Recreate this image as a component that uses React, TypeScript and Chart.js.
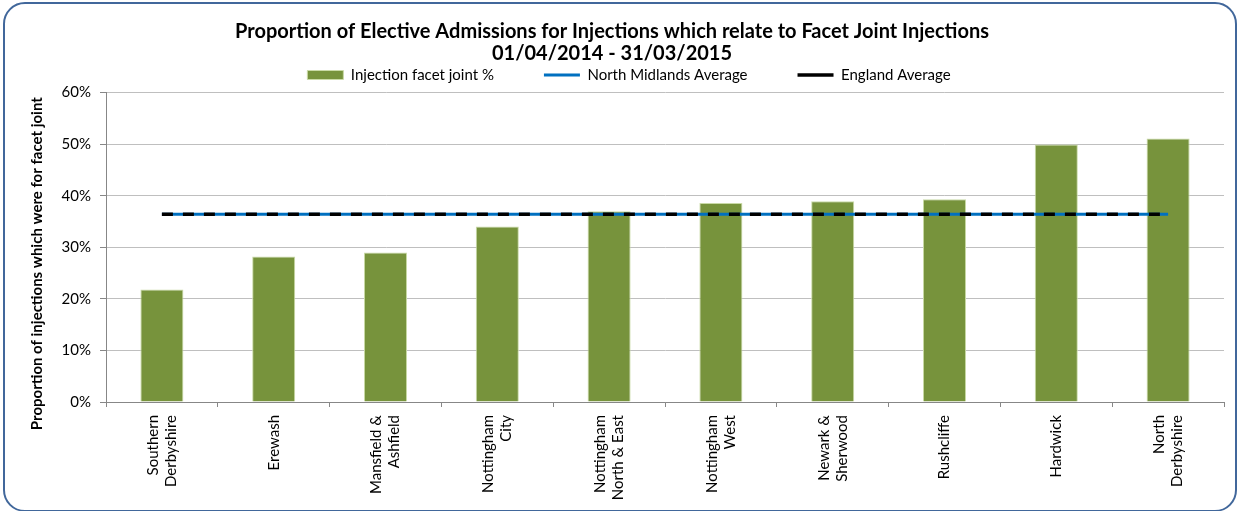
import React, { useEffect, useRef } from "react";
import { Chart, registerables } from "chart.js";

Chart.register(...registerables);

const categories: (string | string[])[] = [
  ["Southern", "Derbyshire"],
  "Erewash",
  ["Mansfield &", "Ashfield"],
  ["Nottingham", "City"],
  ["Nottingham", "North & East"],
  ["Nottingham", "West"],
  ["Newark &", "Sherwood"],
  "Rushcliffe",
  "Hardwick",
  ["North", "Derbyshire"],
];

const facetJointPct = [21.8, 28.2, 29.0, 34.0, 37.0, 38.6, 38.9, 39.3, 49.9, 51.1];
const northMidlandsAvg = [36.4, 36.4, 36.4, 36.4, 36.4, 36.4, 36.4, 36.4, 36.4, 36.4];
const englandAvg = [36.4, 36.4, 36.4, 36.4, 36.4, 36.4, 36.4, 36.4, 36.4, 36.4];

const titleLines = [
  "Proportion of Elective Admissions for Injections which relate to Facet Joint Injections",
  "01/04/2014 - 31/03/2015",
];
const yAxisTitle = "Proportion of injections which were for facet joint";
const seriesNames = ["Injection facet joint %", "North Midlands Average", "England Average"];

const FONT = "Lato, 'Open Sans', sans-serif";

// centre multi-line rotated labels on their category (layout only)
const centredLabel = (lab: string | string[]) =>
  Array.isArray(lab) ? [lab[0], "", lab[1]] : ["", lab];

export default function App() {
  const canvasRef = useRef<HTMLCanvasElement | null>(null);

  useEffect(() => {
    document.body.style.margin = "0";
    const canvas = canvasRef.current;
    if (!canvas) return;
    const legendShift = {
      id: "legendShift",
      afterLayout(chart: any) {
        if (chart.legend) {
          chart.legend.left += 17;
          chart.legend.right += 17;
        }
      },
    };
    const chart = new Chart(canvas, {
      type: "bar",
      data: {
        labels: categories,
        datasets: [
          {
            type: "bar",
            label: seriesNames[0],
            data: facetJointPct,
            backgroundColor: "#77933C",
            borderColor: "#C9DAA6",
            borderWidth: 1,
            categoryPercentage: 1,
            barPercentage: 0.385,
            order: 3,
            pointStyle: "rect",
          } as any,
          {
            type: "line",
            label: seriesNames[1],
            data: northMidlandsAvg,
            borderColor: "#0070C0",
            backgroundColor: "#0070C0",
            borderWidth: 3,
            pointRadius: 0,
            order: 2,
            pointStyle: "line",
          } as any,
          {
            type: "line",
            label: seriesNames[2],
            data: englandAvg,
            borderColor: "#000000",
            backgroundColor: "#000000",
            borderWidth: 3.5,
            borderDash: [11, 10],
            pointRadius: 0,
            order: 1,
            pointStyle: "line",
          } as any,
        ],
      },
      plugins: [legendShift],
      options: {
        animation: false,
        responsive: false,
        layout: { padding: { left: 0, right: 15, top: 0, bottom: 0 } },
        plugins: {
          title: {
            display: true,
            text: titleLines,
            color: "#000",
            font: { family: FONT, size: 20, weight: "bold", lineHeight: 22.5 / 20 },
            padding: { top: 20, bottom: -47.5 },
          },
          legend: {
            display: true,
            position: "top",
            labels: {
              usePointStyle: true,
              pointStyleWidth: 36,
              boxHeight: 9,
              padding: 50,
              color: "#000",
              font: { family: FONT, size: 15 },
              sort: (a: any, b: any) => a.datasetIndex - b.datasetIndex,
            },
          },
          tooltip: { enabled: false },
        },
        scales: {
          x: {
            offset: true,
            grid: {
              display: true,
              drawOnChartArea: false,
              drawTicks: true,
              tickLength: 5,
              color: "#878787",
              offset: true,
            },
            border: { display: true, color: "#878787", width: 1 },
            ticks: {
              minRotation: 90,
              maxRotation: 90,
              autoSkip: false,
              padding: 8,
              labelOffset: -9,
              color: "#000",
              font: { family: FONT, size: 15, lineHeight: 0.6 },
              callback: (_v: any, i: number) => centredLabel(categories[i]),
            },
            afterFit: (scale: any) => {
              scale.height = 109;
            },
          },
          y: {
            min: 0,
            max: 60,
            ticks: {
              stepSize: 10,
              padding: 9,
              color: "#000",
              font: { family: FONT, size: 15 },
              callback: (v: any) => v + "%",
            },
            grid: {
              color: (ctx: any) => (ctx.tick && ctx.tick.value === 0 ? "#878787" : "#BFBFBF"),
              tickColor: "#878787",
              tickLength: 6,
            },
            border: { display: true, color: "#878787", width: 1 },
            title: {
              display: true,
              text: yAxisTitle + "\u00A0".repeat(9),
              color: "#000",
              font: { family: FONT, size: 15, weight: "bold", lineHeight: 1.2 },
              padding: { top: 28, bottom: 0 },
            },
            afterFit: (scale: any) => {
              scale.width = 106;
            },
          },
        },
      } as any,
    });
    return () => chart.destroy();
  }, []);

  return (
    <div style={{ position: "relative", width: 1239, height: 511, overflow: "hidden", background: "#fff" }}>
      <canvas ref={canvasRef} width={1239} height={511} style={{ position: "absolute", left: 0, top: 0 }} />
      <div
        style={{
          position: "absolute",
          left: 3,
          top: 2,
          width: 1234,
          height: 510,
          boxSizing: "border-box",
          border: "2.5px solid #41679B",
          borderRadius: 22,
          pointerEvents: "none",
        }}
      />
    </div>
  );
}
